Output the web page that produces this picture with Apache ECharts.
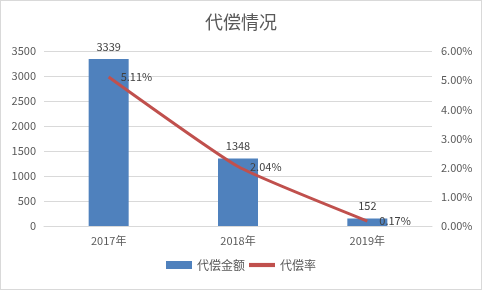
<!DOCTYPE html>
<html><head><meta charset="utf-8">
<script src="https://cdn.jsdelivr.net/npm/echarts@6/dist/echarts.min.js"></script>
<style>html,body{margin:0;padding:0;background:#fff}#c{width:482px;height:290px;box-sizing:border-box;border:1px solid #d9d9d9}</style>
</head><body><div id="c"></div>
<script>
var categories = ['2017年', '2018年', '2019年'];
var amounts = [3339, 1348, 152];
var rates = [5.11, 2.04, 0.17];
var chart = echarts.init(document.getElementById('c'));
var font = '"Microsoft YaHei","Noto Sans CJK SC",sans-serif';
chart.setOption({
  animation: false,
  title: {text: '代偿情况', left: 'center', top: 7, textStyle: {fontSize: 18, fontWeight: 'normal', color: '#595959', fontFamily: font}},
  legend: {bottom: 13, itemGap: 4, itemWidth: 26, itemHeight: 8, textStyle: {fontSize: 12, color: '#595959', fontFamily: font},
    data: [{name: '代偿金额', icon: 'rect'}, {name: '代偿率', icon: 'path://M0,0 H10 V1.6 H0 Z', itemStyle: {color: '#C0504D', opacity: 1}}]},
  grid: {left: 43, right: 49, top: 50, bottom: 63},
  xAxis: {type: 'category', data: categories, axisTick: {show: false}, axisLine: {lineStyle: {color: '#d9d9d9'}},
    axisLabel: {color: '#595959', fontSize: 11, margin: 9, fontFamily: font}},
  yAxis: [
    {type: 'value', min: 0, max: 3500, interval: 500, axisLabel: {color: '#595959', fontSize: 11, margin: 8, fontFamily: font, formatter: function(v){return String(v);}},
      splitLine: {lineStyle: {color: '#d9d9d9'}}, axisLine: {show: false}, axisTick: {show: false}},
    {type: 'value', min: 0, max: 6, interval: 1, axisLabel: {color: '#595959', fontSize: 11, margin: 9, fontFamily: font, formatter: function(v){return v.toFixed(2)+'%';}},
      splitLine: {show: false}, axisLine: {show: false}, axisTick: {show: false}}
  ],
  series: [
    {name: '代偿金额', type: 'bar', data: amounts, barWidth: 40, itemStyle: {color: '#4F81BD'},
      label: {show: true, position: 'top', color: '#404040', fontSize: 11, fontFamily: font, distance: 7}},
    {name: '代偿率', type: 'line', yAxisIndex: 1, data: rates, smooth: 0.15, symbol: 'circle', symbolSize: 0.01, showSymbol: true, showAllSymbol: true,
      lineStyle: {color: '#C0504D', width: 3}, itemStyle: {color: '#C0504D'},
      label: {show: true, position: 'right', distance: 12, color: '#404040', fontSize: 11, fontFamily: font, formatter: function(p){return p.value.toFixed(2)+'%';}}}
  ]
});
</script></body></html>
